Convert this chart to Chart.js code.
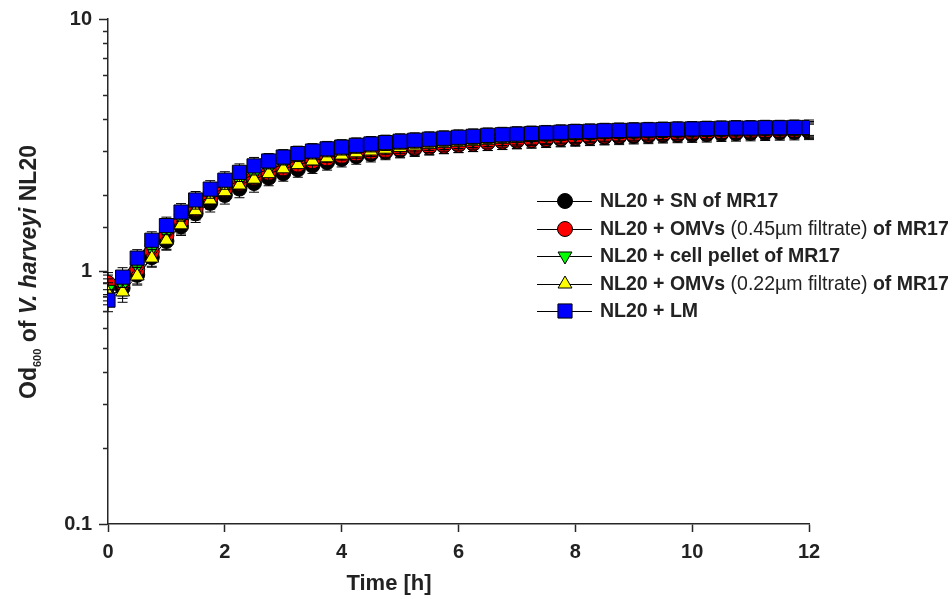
<!DOCTYPE html>
<html>
<head>
<meta charset="utf-8">
<script src="https://cdn.jsdelivr.net/npm/chart.js@4/dist/chart.umd.min.js"></script>
<style>
html,body{margin:0;padding:0;background:#fff;}
#wrap{position:relative;width:952px;height:599px;}
canvas{display:block;}
</style>
</head>
<body>
<div id="wrap"><canvas id="c" width="952" height="599"></canvas></div>
<script>
// ---- data ----
const hours = [0,0.25,0.5,0.75,1,1.25,1.5,1.75,2,2.25,2.5,2.75,3,3.25,3.5,3.75,4,4.25,4.5,4.75,5,5.25,5.5,5.75,6,6.25,6.5,6.75,7,7.25,7.5,7.75,8,8.25,8.5,8.75,9,9.25,9.5,9.75,10,10.25,10.5,10.75,11,11.25,11.5,11.75,12];

const snMR17 = [0.88,0.86,0.97,1.14,1.32,1.51,1.70,1.87,2.01,2.13,2.24,2.35,2.45,2.54,2.63,2.71,2.79,2.86,2.92,2.98,3.03,3.07,3.11,3.15,3.18,3.21,3.24,3.27,3.29,3.31,3.33,3.35,3.37,3.39,3.41,3.42,3.44,3.45,3.47,3.48,3.49,3.50,3.52,3.53,3.54,3.55,3.56,3.57,3.58];
const omv045 = [0.90,0.90,1.02,1.20,1.39,1.58,1.77,1.95,2.10,2.23,2.35,2.46,2.56,2.65,2.73,2.80,2.86,2.92,2.97,3.01,3.05,3.09,3.12,3.15,3.18,3.21,3.24,3.27,3.30,3.32,3.35,3.37,3.39,3.41,3.43,3.45,3.47,3.48,3.50,3.51,3.53,3.54,3.56,3.57,3.58,3.59,3.60,3.61,3.62];
const cellPellet = [0.85,0.88,1.05,1.23,1.42,1.62,1.82,2.00,2.15,2.29,2.42,2.54,2.65,2.75,2.84,2.91,2.97,3.02,3.07,3.12,3.16,3.20,3.24,3.27,3.30,3.33,3.36,3.39,3.41,3.43,3.45,3.47,3.49,3.51,3.53,3.54,3.56,3.57,3.58,3.59,3.60,3.61,3.62,3.63,3.64,3.65,3.66,3.66,3.67];
const omv022 = [0.82,0.83,0.96,1.13,1.33,1.53,1.74,1.92,2.07,2.20,2.32,2.44,2.55,2.65,2.74,2.82,2.89,2.95,3.00,3.05,3.10,3.14,3.18,3.22,3.25,3.28,3.31,3.34,3.37,3.39,3.42,3.44,3.46,3.48,3.50,3.51,3.53,3.54,3.56,3.57,3.58,3.59,3.60,3.61,3.62,3.63,3.64,3.65,3.66];
const lmOnly = [0.77,0.95,1.13,1.33,1.52,1.72,1.92,2.12,2.30,2.47,2.62,2.74,2.84,2.93,3.00,3.06,3.11,3.16,3.20,3.24,3.28,3.31,3.34,3.37,3.40,3.43,3.46,3.48,3.50,3.52,3.54,3.56,3.58,3.59,3.61,3.62,3.63,3.64,3.65,3.66,3.67,3.68,3.69,3.70,3.70,3.71,3.71,3.72,3.72];
// relative standard deviation per time point (shared)
const relSD = [0.10,0.09,0.08,0.08,0.08,0.08,0.08,0.08,0.08,0.08,0.08,0.07,0.07,0.07,0.07,0.07,0.07,0.07,0.07,0.07,0.07,0.07,0.07,0.07,0.07,0.07,0.07,0.07,0.07,0.07,0.07,0.07,0.07,0.07,0.07,0.07,0.07,0.07,0.07,0.07,0.07,0.07,0.07,0.07,0.07,0.07,0.07,0.07,0.07];

const xTicks = [0,2,4,6,8,10,12];
const yTickLabels = ['0.1','1','10'];

const seriesNames = ['NL20 + SN of MR17','NL20 + OMVs (0.45µm filtrate) of MR17','NL20 + cell pellet of MR17','NL20 + OMVs (0.22µm filtrate) of MR17','NL20 + LM'];

// ---- styling ----
const AX = '#262626';
const FONT = '"Liberation Sans", Arial, Helvetica, sans-serif';

function mk(values, bg, style, radius, rotation, order) {
  return {
    data: hours.map((h,i)=>({x:h, y:values[i]})),
    borderColor:'#000', borderWidth:1,
    pointBackgroundColor:bg, pointBorderColor:'#000', pointBorderWidth:1,
    pointStyle:style, pointRadius:radius, pointRotation:rotation||0,
    pointHoverRadius:radius, tension:0, fill:false, order:order
  };
}
const datasets = [
  mk(snMR17,'#000000','circle',7.5,0,5),
  mk(omv045,'#ff0000','circle',7.5,0,4),
  mk(cellPellet,'#00ff00','triangle',8,180,3),
  mk(omv022,'#ffff00','triangle',8,0,2),
  mk(lmOnly,'#0000ff','rect',10,0,1)
];
const seriesValues = [snMR17, omv045, cellPellet, omv022, lmOnly];

function isDecade(v){ const l=Math.log10(v); return Math.abs(l-Math.round(l))<1e-6; }

const errorBars = {
  id:'errorBars',
  beforeDatasetDraw(chart, args){
    const vals = seriesValues[args.index];
    const xs = chart.scales.x, ys = chart.scales.y, c = chart.ctx;
    c.save(); c.strokeStyle='#000'; c.lineWidth=1;
    vals.forEach((v,i)=>{
      const px = xs.getPixelForValue(hours[i]);
      const y1 = ys.getPixelForValue(v*(1+relSD[i]));
      const y2 = ys.getPixelForValue(v*(1-relSD[i]));
      c.beginPath();
      c.moveTo(px,y1); c.lineTo(px,y2);
      c.moveTo(px-5,y1); c.lineTo(px+5,y1);
      c.moveTo(px-5,y2); c.lineTo(px+5,y2);
      c.stroke();
    });
    c.restore();
  }
};

function drawRuns(c, runs, x, y){
  let cx = x;
  runs.forEach(r=>{
    c.font = r.font;
    c.fillText(r.text, cx, y + (r.dy||0));
    cx += c.measureText(r.text).width;
  });
  return cx - x;
}
function runsWidth(c, runs){
  let w=0; runs.forEach(r=>{ c.font=r.font; w+=c.measureText(r.text).width; }); return w;
}

const decor = {
  id:'decor',
  afterDraw(chart){
    const c = chart.ctx, ys = chart.scales.y, ca = chart.chartArea;
    c.save();
    // minor ticks on log axis
    c.strokeStyle = AX; c.lineWidth = 1.5;
    ys.ticks.forEach(t=>{
      if (!isDecade(t.value)) {
        const py = Math.round(ys.getPixelForValue(t.value))+0.5;
        c.beginPath(); c.moveTo(ca.left-5, py); c.lineTo(ca.left, py); c.stroke();
      }
    });
    // axis titles
    c.fillStyle = '#222';
    c.textBaseline = 'alphabetic';
    const B = 'bold 22px '+FONT;
    const xt = [{text:'Time [h]', font:B}];
    const xw = runsWidth(c, xt);
    drawRuns(c, xt, 389 - xw/2, 590);
    const YB = 'bold 23px '+FONT;
    const yt = [
      {text:'Od', font:YB},
      {text:'600', font:'bold 11px '+FONT, dy:5},
      {text:' of ', font:YB},
      {text:'V. harveyi', font:'italic bold 23px '+FONT},
      {text:' NL20', font:YB}
    ];
    const yw = runsWidth(c, yt);
    c.save();
    c.translate(36, 272);
    c.rotate(-Math.PI/2);
    drawRuns(c, yt, -yw/2, 0);
    c.restore();
    // legend
    const styles = [
      {bg:'#000000', st:'circle', r:7.5, rot:0},
      {bg:'#ff0000', st:'circle', r:7.5, rot:0},
      {bg:'#00ff00', st:'triangle', r:8, rot:180},
      {bg:'#ffff00', st:'triangle', r:8, rot:0},
      {bg:'#0000ff', st:'rect', r:10, rot:0}
    ];
    const LB = 'bold 19.5px '+FONT, LN = '19.5px '+FONT;
    const texts = [
      [{text:'NL20 + SN of MR17', font:LB}],
      [{text:'NL20 + OMVs ', font:LB},{text:'(0.45µm filtrate)', font:LN},{text:' of MR17', font:LB}],
      [{text:'NL20 + cell pellet of MR17', font:LB}],
      [{text:'NL20 + OMVs ', font:LB},{text:'(0.22µm filtrate)', font:LN},{text:' of MR17', font:LB}],
      [{text:'NL20 + LM', font:LB}]
    ];
    const rowY = [201, 229, 256, 284, 311];
    c.textBaseline = 'middle';
    styles.forEach((s,i)=>{
      const y = rowY[i];
      c.strokeStyle='#000'; c.lineWidth=1;
      c.beginPath(); c.moveTo(537, y+0.5); c.lineTo(592, y+0.5); c.stroke();
      c.fillStyle = s.bg; c.strokeStyle='#000'; c.lineWidth=1;
      Chart.helpers.drawPoint(c, {pointStyle:s.st, radius:s.r, rotation:s.rot, borderWidth:1}, 565, y);
      c.fillStyle = '#222';
      drawRuns(c, texts[i], 600, y+1);
    });
    c.restore();
  }
};

Chart.defaults.font.family = FONT;
new Chart(document.getElementById('c'), {
  type:'line',
  data:{ datasets },
  options:{
    responsive:false, animation:false, devicePixelRatio:1,
    layout:{ padding:{ top:19, right:143, left:0, bottom:0 } },
    plugins:{ legend:{display:false}, tooltip:{enabled:false} },
    scales:{
      x:{
        type:'linear', min:0, max:12,
        afterFit(s){ s.height = 75; },
        afterBuildTicks(s){ s.ticks = xTicks.map(v=>({value:v})); },
        ticks:{ color:'#222', font:{size:20, weight:'bold'}, padding:8, maxRotation:0 },
        grid:{ display:true, drawOnChartArea:false, drawTicks:true, tickLength:8, tickColor:AX, tickWidth:1.5 },
        border:{ display:true, color:AX, width:1.5 }
      },
      y:{
        type:'logarithmic', min:0.1, max:10,
        afterFit(s){ s.width = 108; },
        ticks:{
          color:'#222', font:{size:20, weight:'bold'}, padding:7, autoSkip:false,
          callback(v){ if(!isDecade(v)) return ''; const k=Math.round(Math.log10(v)); return yTickLabels[k+1]; }
        },
        grid:{ display:true, drawOnChartArea:false, drawTicks:true, tickLength:9, tickWidth:1.5,
          tickColor(ctx){ return (ctx.tick && isDecade(ctx.tick.value)) ? AX : 'rgba(0,0,0,0)'; } },
        border:{ display:true, color:AX, width:1.5 }
      }
    }
  },
  plugins:[errorBars, decor]
});
</script>
</body>
</html>
